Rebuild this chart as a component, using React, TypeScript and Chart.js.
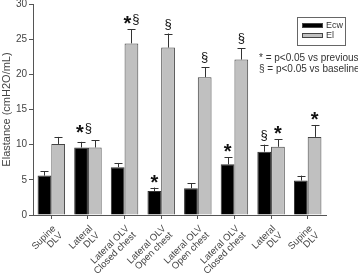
import { useEffect, useRef } from "react";
import { Chart, registerables } from "chart.js";
Chart.register(...registerables);

const categories = [
  ["Supine", "DLV"],
  ["Lateral", "DLV"],
  ["Lateral OLV", "Closed chest"],
  ["Lateral OLV", "Open chest"],
  ["Lateral OLV", "Open chest"],
  ["Lateral OLV", "Closed chest"],
  ["Lateral", "DLV"],
  ["Supine", "DLV"],
];
const ecw = [5.6, 9.6, 6.8, 3.4, 3.8, 7.2, 9.0, 4.9];
const ecwErr = [0.6, 0.8, 0.6, 0.5, 0.7, 1.0, 1.0, 0.7];
const el = [10.1, 9.6, 24.4, 23.8, 19.6, 22.1, 9.7, 11.1];
const elErr = [1.0, 1.0, 2.0, 2.0, 1.4, 1.6, 1.1, 1.7];
const ecwMarks = ["", "", "", "*", "", "*", "§", ""];
const elMarks = ["", "", "*§", "§", "§", "§", "*", "*"];
const groupMarks = ["", "*§", "", "", "", "", "", ""];
const seriesNames = ["Ecw", "El"];
const noteLines = ["* = p<0.05 vs previous", "§ = p<0.05 vs baseline"];

const FONT = "'Liberation Sans', Arial, sans-serif";

function drawMark(ctx: CanvasRenderingContext2D, text: string, cx: number, cy: number) {
  const parts = Array.from(text).map((ch) => {
    const font = ch === "*" ? `bold 20px ${FONT}` : `13px ${FONT}`;
    ctx.font = font;
    return { ch, font, w: ctx.measureText(ch).width };
  });
  const gap = 1;
  const total = parts.reduce((a, p) => a + p.w, 0) + gap * (parts.length - 1);
  let x = cx - total / 2;
  ctx.fillStyle = "#111";
  ctx.textAlign = "left";
  ctx.textBaseline = "alphabetic";
  for (const p of parts) {
    ctx.font = p.font;
    const base = p.ch === "*" ? cy + 11 : cy + 4;
    ctx.fillText(p.ch, x, base);
    x += p.w + gap;
  }
}

const overlay = {
  id: "overlay",
  afterDatasetsDraw(chart: any) {
    const ctx: CanvasRenderingContext2D = chart.ctx;
    const ys = chart.scales.y;
    const xsScale = chart.scales.x;
    const sets = [
      { vals: ecw, err: ecwErr, marks: ecwMarks },
      { vals: el, err: elErr, marks: elMarks },
    ];
    ctx.save();
    ctx.strokeStyle = "#333";
    ctx.lineWidth = 1;
    const tops: number[][] = [[], []];
    const xs: number[][] = [[], []];
    sets.forEach((s, di) => {
      const meta = chart.getDatasetMeta(di);
      meta.data.forEach((bar: any, i: number) => {
        const x = Math.round(bar.x) + 0.5;
        const top = ys.getPixelForValue(s.vals[i] + s.err[i]);
        const base = ys.getPixelForValue(s.vals[i]);
        ctx.beginPath();
        ctx.moveTo(x, base);
        ctx.lineTo(x, top);
        ctx.moveTo(x - 4, Math.round(top) + 0.5);
        ctx.lineTo(x + 4, Math.round(top) + 0.5);
        ctx.stroke();
        tops[di][i] = top;
        xs[di][i] = bar.x;
        if (s.marks[i]) drawMark(ctx, s.marks[i], bar.x, top - 10);
      });
    });
    groupMarks.forEach((m, i) => {
      if (!m) return;
      const cx = (xs[0][i] + xs[1][i]) / 2 - 4;
      const top = Math.min(tops[0][i], tops[1][i]);
      drawMark(ctx, m, cx, top - 12);
    });
    // category labels, rotated 45 degrees
    ctx.fillStyle = "#444";
    ctx.font = `9.5px ${FONT}`;
    ctx.textAlign = "right";
    ctx.textBaseline = "middle";
    categories.forEach((lines, i) => {
      const tx = xsScale.getPixelForTick(i);
      ctx.save();
      ctx.translate(tx + 6.5, xsScale.top + 15.5);
      ctx.rotate(-Math.PI / 4);
      lines.forEach((t, k) => {
        ctx.fillText(t, 0, (k - (lines.length - 1) / 2) * 9.5);
      });
      ctx.restore();
    });
    // legend
    ctx.strokeStyle = "#666";
    ctx.strokeRect(297.5, 17.5, 48, 28);
    const colors = ["#000", "#c0c0c0"];
    seriesNames.forEach((n, i) => {
      const y = 23 + i * 10;
      ctx.fillStyle = colors[i];
      ctx.fillRect(302, y, 21, 5);
      ctx.strokeStyle = "#444";
      ctx.strokeRect(302.5, y + 0.5, 20, 4);
      ctx.fillStyle = "#333";
      ctx.font = `9px ${FONT}`;
      ctx.textAlign = "left";
      ctx.textBaseline = "middle";
      ctx.fillText(n, 326, y + 3);
    });
    ctx.font = `10px ${FONT}`;
    ctx.fillStyle = "#333";
    ctx.textAlign = "left";
    noteLines.forEach((t, i) => {
      ctx.fillText(t, 259, 58 + i * 11);
    });
    ctx.restore();
  },
};

export default function App() {
  const ref = useRef<HTMLCanvasElement>(null);
  useEffect(() => {
    document.body.style.margin = "0";
    const chart = new Chart(ref.current!, {
      type: "bar",
      data: {
        labels: categories,
        datasets: [
          {
            label: seriesNames[0],
            data: ecw,
            backgroundColor: "#000",
            borderColor: "#333",
            borderWidth: 1,
          },
          {
            label: seriesNames[1],
            data: el,
            backgroundColor: "#c0c0c0",
            borderColor: "#444",
            borderWidth: 1,
          },
        ],
      },
      options: {
        animation: false,
        responsive: false,
        maintainAspectRatio: false,
        layout: { padding: { left: 0, right: 32, top: 4, bottom: 0 } },
        datasets: { bar: { categoryPercentage: 0.75, barPercentage: 1 } },
        plugins: { legend: { display: false }, tooltip: { enabled: false } },
        scales: {
          x: {
            grid: { display: true, offset: false, drawOnChartArea: false, drawTicks: true, tickLength: 4, color: "#555" },
            border: { color: "#555" },
            ticks: { display: false },
            afterFit: (s: any) => {
              s.height = 64;
              s.paddingLeft = 0;
              s.paddingRight = 0;
            },
          },
          y: {
            min: 0,
            max: 30,
            ticks: { stepSize: 5, color: "#444", font: { size: 10, family: FONT }, padding: 2 },
            grid: { drawOnChartArea: false, drawTicks: true, tickLength: 4, color: "#555" },
            border: { color: "#555" },
            title: {
              display: true,
              text: "Elastance (cmH2O/mL)",
              color: "#444",
              font: { size: 11, family: FONT },
              padding: 0,
            },
            afterFit: (s: any) => {
              s.width = 33;
              s.paddingTop = 0;
              s.paddingBottom = 0;
            },
          },
        },
      },
      plugins: [overlay],
    });
    return () => chart.destroy();
  }, []);
  return <canvas ref={ref} width={358} height={279} style={{ display: "block" }} />;
}
